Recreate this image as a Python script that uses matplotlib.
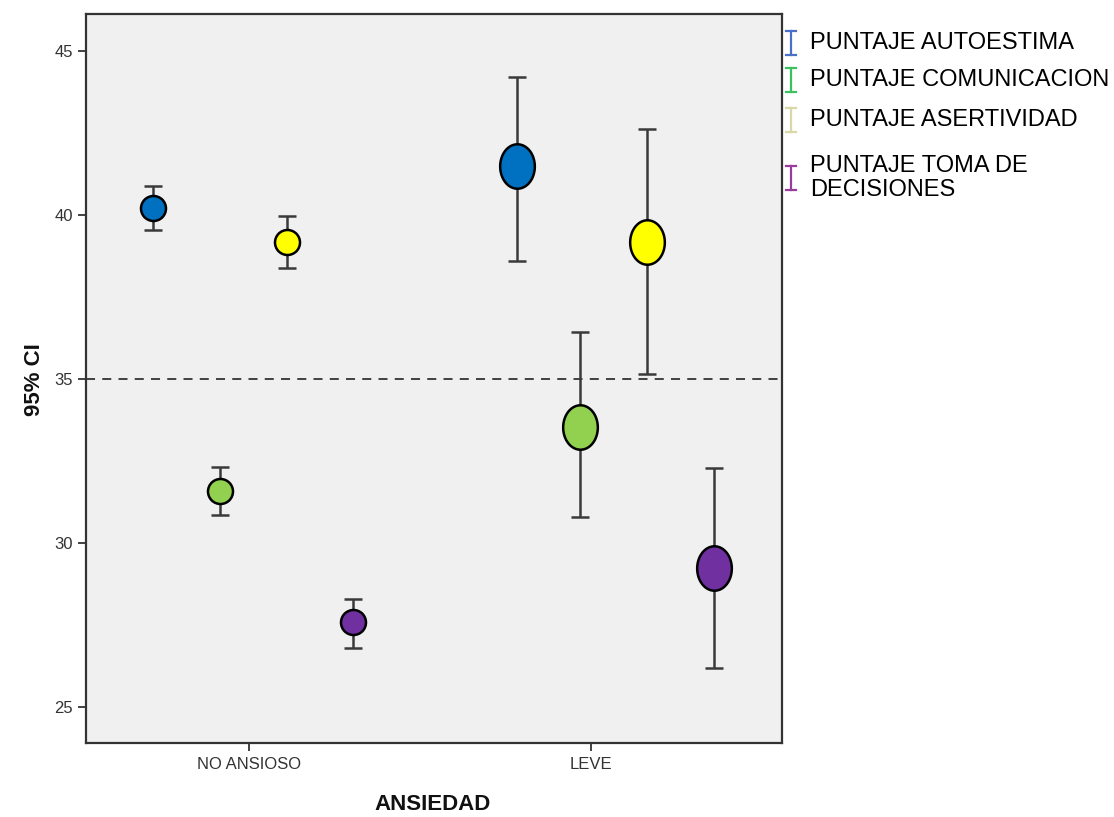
import matplotlib
matplotlib.use('Agg')
import matplotlib.pyplot as plt
import numpy as np
from matplotlib.path import Path
from matplotlib.lines import Line2D

plt.rcParams['font.family'] = ['Liberation Sans', 'DejaVu Sans']

# ===== data =====
groups = ['NO ANSIOSO', 'LEVE']
series = ['PUNTAJE AUTOESTIMA', 'PUNTAJE COMUNICACION', 'PUNTAJE ASERTIVIDAD',
          'PUNTAJE TOMA DE\nDECISIONES']
# x offsets of each series inside each group (category units)
offs_no = [-0.281, -0.085, 0.111, 0.304]
offs_leve = [-0.216, -0.032, 0.164, 0.360]

mean_no = [40.21, 31.59, 39.18, 27.59]
low_no = [39.54, 30.85, 38.38, 26.80]
high_no = [40.88, 32.32, 39.97, 28.29]

mean_leve = [41.49, 33.54, 39.18, 29.24]
low_leve = [38.60, 30.79, 35.15, 26.19]
high_leve = [44.21, 36.43, 42.62, 32.29]

ref_line = 35

fill_cols = ['#0070C0', '#92D050', '#FFFF00', '#7030A0']
legend_cols = ['#4A6FC8', '#3CC060', '#D8D8A8', '#9A3C9C']

# ellipse marker for the wider-interval group
t = np.linspace(0, 2 * np.pi, 60)
ell = Path(np.column_stack([0.39 * np.cos(t), 0.5 * np.sin(t)]), closed=True)

fig = plt.figure(figsize=(11.14, 8.17), dpi=100)
ax = fig.add_axes([86 / 1114, 1 - 743 / 817, (782 - 86) / 1114, (743 - 14) / 817])
ax.set_facecolor('#F0F0F0')

ax.axhline(ref_line, color='#333333', lw=1.3, ls=(0, (5, 4)), zorder=1)

for gi, (offs, m, lo, hi, mk, ms) in enumerate([
        (offs_no, mean_no, low_no, high_no, 'o', 18),
        (offs_leve, mean_leve, low_leve, high_leve, ell, 32)]):
    for i in range(4):
        x = gi + offs[i]
        ax.errorbar([x], [m[i]], yerr=[[m[i] - lo[i]], [hi[i] - m[i]]],
                    fmt='none', ecolor='#3a3a3a', elinewidth=1.8,
                    capsize=6.5, capthick=1.8, zorder=2)
        ax.plot([x], [m[i]], marker=mk, ms=ms, mfc=fill_cols[i], mec='black',
                mew=1.8, ls='none', zorder=3)

ax.set_xlim(-0.477, 1.558)
ax.set_ylim(23.9, 46.13)
ax.set_xticks([0, 1])
ax.set_xticklabels(groups)
ax.set_yticks([25, 30, 35, 40, 45])
ax.tick_params(axis='both', colors='#333333', labelcolor='#333333',
               labelsize=12, length=6, width=1.3)
ax.tick_params(axis='x', pad=4)
for s in ax.spines.values():
    s.set_color('#333333')
    s.set_linewidth(1.6)

fig.text(433 / 1114, 1 - 805 / 817, 'ANSIEDAD', fontsize=16, fontweight='bold',
         ha='center', va='center', color='#111111')
fig.text(35 / 1114, 1 - 380 / 817, '95% CI', fontsize=16, fontweight='bold',
         ha='center', va='center', rotation=90, color='#111111')

# legend drawn on the figure
leg_y = [43, 80, 120, 178]
for i, lab in enumerate(series):
    yc = 1 - leg_y[i] / 817
    x0 = 791 / 1114
    h = 12 / 817
    w = 5 / 1114
    fig.add_artist(Line2D([x0, x0], [yc - h, yc + h], color=legend_cols[i], lw=1.6))
    fig.add_artist(Line2D([x0 - w, x0 + w], [yc + h, yc + h], color=legend_cols[i], lw=1.6))
    fig.add_artist(Line2D([x0 - w, x0 + w], [yc - h, yc - h], color=legend_cols[i], lw=1.6))
    fig.text(810 / 1114, yc, lab, fontsize=17, ha='left', va='center',
             linespacing=1.1, color='black')

fig.savefig('out.png', dpi=100)
